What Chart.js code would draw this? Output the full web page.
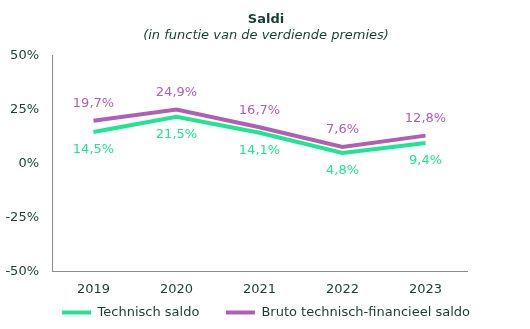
<!DOCTYPE html>
<html>
<head>
<meta charset="utf-8">
<script src="https://cdn.jsdelivr.net/npm/chart.js@4"></script>
<style>
  body { margin: 0; background: #fff; }
  #wrap { width: 530px; height: 329px; }
</style>
</head>
<body>
<div id="wrap"><canvas id="saldiChart" width="530" height="329"></canvas></div>
<script>
const years = ['2019', '2020', '2021', '2022', '2023'];
const technischSaldo = [14.5, 21.5, 14.1, 4.8, 9.4];
const brutoSaldo = [19.7, 24.9, 16.7, 7.6, 12.8];
const yTicks = [-50, -25, 0, 25, 50];

const textColor = '#173f35';
const green = '#1ee58f';
const purple = '#b05fb5';
const font = 'Verdana, "DejaVu Sans", sans-serif';

// draws the value labels (above for purple, below for green)
const valueLabels = {
    id: 'valueLabels',
    afterDatasetsDraw(chart) {
        const ctx = chart.ctx;
        ctx.save();
        ctx.font = '13px ' + font;
        ctx.textAlign = 'center';
        ctx.textBaseline = 'middle';
        chart.data.datasets.forEach((ds, i) => {
            const meta = chart.getDatasetMeta(i);
            meta.data.forEach((pt, idx) => {
                const offset = ds.labelPos === 'above' ? -17 : 18;
                ctx.fillStyle = ds.borderColor;
                ctx.fillText(String(ds.data[idx]).replace('.', ',') + '%', pt.x, pt.y + offset);
            });
        });
        ctx.restore();
    }
};

const ctx = document.getElementById('saldiChart').getContext('2d');
new Chart(ctx, {
    type: 'line',
    data: {
        labels: years,
        datasets: [
            {
                label: 'Technisch saldo',
                data: technischSaldo,
                borderColor: green,
                backgroundColor: green,
                borderWidth: 4,
                pointRadius: 0,
                labelPos: 'below'
            },
            {
                label: 'Bruto technisch-financieel saldo',
                data: brutoSaldo,
                borderColor: purple,
                backgroundColor: purple,
                borderWidth: 4,
                pointRadius: 0,
                labelPos: 'above'
            }
        ]
    },
    options: {
        responsive: false,
        animation: false,
        layout: { padding: { left: 2, right: 0, top: 0, bottom: 0 } },
        plugins: {
            title: {
                display: true,
                text: 'Saldi',
                color: textColor,
                font: { family: font, size: 13, weight: 'bold' },
                padding: { top: 12, bottom: 0 }
            },
            subtitle: {
                display: true,
                text: '(in functie van de verdiende premies)',
                color: textColor,
                font: { family: font, size: 13, style: 'italic' },
                padding: { top: 0, bottom: 12 }
            },
            legend: {
                position: 'bottom',
                labels: {
                    usePointStyle: true,
                    pointStyle: 'line',
                    pointStyleWidth: 29,
                    color: textColor,
                    font: { family: font, size: 13 },
                    padding: 10,
                    // extra spaces widen the gap between the two items
                    generateLabels: (chart) => {
                        const items = Chart.defaults.plugins.legend.labels.generateLabels(chart);
                        items[0].text = items[0].text + '    ';
                        items.forEach(it => { it.lineWidth = 4; });
                        return items;
                    }
                }
            },
            tooltip: { enabled: false }
        },
        scales: {
            x: {
                offset: true,
                afterFit: (s) => { s.height = s.height - 11; },
                grid: { display: false, drawTicks: false },
                border: { color: '#8c8c8c', width: 1 },
                ticks: { color: textColor, font: { family: font, size: 13 }, padding: 10 }
            },
            y: {
                min: -50,
                max: 50,
                afterFit: (s) => { s.width = 50; },
                afterBuildTicks: (s) => { s.ticks = yTicks.map(v => ({ value: v })); },
                grid: { display: false, drawTicks: false },
                border: { color: '#8c8c8c', width: 1 },
                ticks: {
                    color: textColor,
                    font: { family: font, size: 13 },
                    padding: 13,
                    callback: (v) => v + '%'
                }
            },
            // empty right axis, only reserves space on the right
            yRight: {
                position: 'right',
                afterFit: (s) => { s.width = 63; },
                grid: { display: false, drawTicks: false },
                border: { display: false },
                ticks: { display: false }
            }
        }
    },
    plugins: [valueLabels]
});
</script>
</body>
</html>
